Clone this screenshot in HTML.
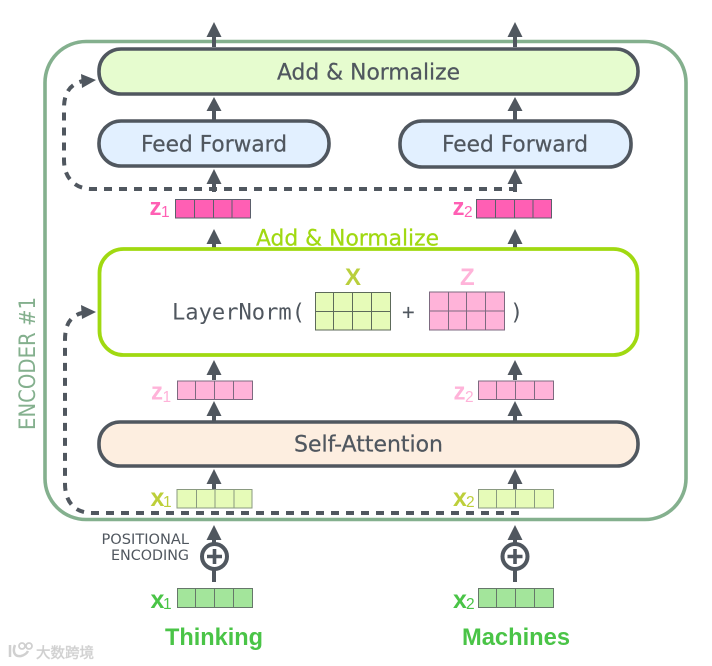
<!DOCTYPE html>
<html><head><meta charset="utf-8">
<style>
html,body{margin:0;padding:0;background:#fff;width:712px;height:666px;overflow:hidden}
svg{display:block}
text{font-family:"DejaVu Sans",sans-serif;fill:#50575f}
.t{stroke:#50575f;stroke-width:.25}
.b{font-family:"Liberation Sans",sans-serif;font-weight:bold}
.s{font-family:"Liberation Sans",sans-serif;font-weight:normal}
</style></head><body>
<svg width="712" height="666" viewBox="0 0 712 666" xmlns="http://www.w3.org/2000/svg">
<rect x="45" y="41.5" width="641" height="478" rx="41" fill="#fff" stroke="#84b08e" stroke-width="3.6"/>

<!-- dashed skip connections -->
<path d="M517 189H92C75 189 64 178 64 160V108C64 93 70 84 83 81" fill="none" stroke="#50575f" stroke-width="4" stroke-dasharray="8 7"/>
<path d="M81 74L96 80L82 88Z" fill="#50575f"/>
<path d="M519 513H92C75 513 65 502 65 484V340C65 325 70 316 82 313" fill="none" stroke="#50575f" stroke-width="4" stroke-dasharray="8 7"/>
<path d="M81 305L96 312L82 319Z" fill="#50575f"/>

<!-- arrows -->
<g stroke="#50575f" stroke-width="4" fill="none">
<path d="M214 32V47M515 32V47M214 105V120M515 105V120M214 178V192M515 178V192M214 238V248M515 238V248M214 370V380M515 370V380M214 411V421M515 411V421M214 479V489M515 479V489M214 535V582M515 535V582"/>
</g>
<g fill="#50575f">
<path d="M214 22l7.500 15h-15zM515 22l7.500 15h-15zM214 97l7.500 14h-15zM515 97l7.500 14h-15zM214 169l7.500 15h-15zM515 169l7.500 15h-15zM214 229l7.500 15h-15zM515 229l7.500 15h-15zM214 360l7.500 15h-15zM515 360l7.500 15h-15zM214 401l7.500 15h-15zM515 401l7.500 15h-15zM214 469l7.500 15h-15zM515 469l7.500 15h-15zM214 525l7.500 15h-15zM515 525l7.500 15h-15z"/>
</g>

<!-- boxes -->
<rect x="99" y="49" width="539" height="45" rx="22" fill="#e6fccf" stroke="#50575f" stroke-width="3.600"/>
<rect x="99" y="121" width="230" height="45" rx="22" fill="#e2f0ff" stroke="#50575f" stroke-width="3.600"/>
<rect x="400" y="121" width="231" height="46" rx="22" fill="#e2f0ff" stroke="#50575f" stroke-width="3.600"/>
<rect x="99.500" y="249" width="538" height="106" rx="24" fill="#fff" stroke="#a0d911" stroke-width="3.800"/>
<rect x="99" y="422" width="539" height="44" rx="21" fill="#fdeee0" stroke="#50575f" stroke-width="3.600"/>

<text class="t" x="277" y="79.500" font-size="22" textLength="183" lengthAdjust="spacingAndGlyphs">Add &amp; Normalize</text>
<text class="t" x="141" y="151.500" font-size="22" textLength="146" lengthAdjust="spacingAndGlyphs">Feed Forward</text>
<text class="t" x="442" y="151.500" font-size="22" textLength="146" lengthAdjust="spacingAndGlyphs">Feed Forward</text>
<text class="t" x="294" y="451.500" font-size="22" textLength="149" lengthAdjust="spacingAndGlyphs">Self-Attention</text>
<text x="256" y="245.500" font-size="22" textLength="183" lengthAdjust="spacingAndGlyphs" style="fill:#a0d911;stroke:#a0d911;stroke-width:.25">Add &amp; Normalize</text>
<text x="172" y="319.500" font-size="22" textLength="133" lengthAdjust="spacingAndGlyphs" style="font-family:'DejaVu Sans Mono',monospace">LayerNorm(</text>
<text x="402" y="319" font-size="21" style="font-family:'DejaVu Sans Mono',monospace">+</text>
<text x="510" y="319.500" font-size="22" style="font-family:'DejaVu Sans Mono',monospace">)</text>
<text class="b" x="345" y="285" font-size="24" style="fill:#b9cf3c">X</text>
<text class="b" x="460" y="285" font-size="24" style="fill:#ffb3d9">Z</text>

<text transform="translate(35,430) rotate(-90)" font-size="22" textLength="133" lengthAdjust="spacingAndGlyphs" style="fill:#84b08e">ENCODER #1</text>

<!-- vectors -->
<g stroke-width="1">
<g fill="#ff5fb4" stroke="#5b5f6b">
<rect x="175.500" y="199.500" width="75" height="18.500"/><path d="M194.500 199.500v18.500M213.500 199.500v18.500M232 199.500v18.500" fill="none"/>
<rect x="476.500" y="199.500" width="75" height="18.500"/><path d="M495.500 199.500v18.500M514.500 199.500v18.500M533 199.500v18.500" fill="none"/>
</g>
<g fill="#ffb3d9" stroke="#7d6a80">
<rect x="177.500" y="381" width="75" height="18.500"/><path d="M195.500 381v18.500M214.500 381v18.500M233.500 381v18.500" fill="none"/>
<rect x="478.500" y="381" width="75" height="18.500"/><path d="M496.500 381v18.500M515.500 381v18.500M534.500 381v18.500" fill="none"/>
<rect x="429.500" y="292" width="75" height="38"/><path d="M429.500 311H504.500M448.500 292v38M466.500 292v38M485.500 292v38" fill="none"/>
</g>
<g fill="#e6fbb8" stroke="#8a9a80">
<rect x="177" y="489.500" width="75" height="18.500"/><path d="M196.500 489.500v18.500M215 489.500v18.500M234 489.500v18.500" fill="none"/>
<rect x="478.500" y="489.500" width="75" height="18.500"/><path d="M496.500 489.500v18.500M515.500 489.500v18.500M534.500 489.500v18.500" fill="none"/>
</g>
<rect x="315.500" y="292.500" width="75" height="37.500" fill="#e6fbb8" stroke="#5d6a5a"/>
<path d="M315.500 311.500H390.500M333.500 292.500v37.500M352.500 292.500v37.500M371.500 292.500v37.500" fill="none" stroke="#5d6a5a"/>
<g fill="#a3e59b" stroke="#66776a">
<rect x="177.500" y="588.500" width="75" height="19"/><path d="M195.500 588.500v19M214.500 588.500v19M233.500 588.500v19" fill="none"/>
<rect x="478.500" y="588.500" width="75" height="19"/><path d="M496.500 588.500v19M515.500 588.500v19M534.500 588.500v19" fill="none"/>
</g>
</g>

<!-- vector labels -->
<text class="b" x="149.500" y="215" font-size="24" style="fill:#ff5fb4">z</text><text class="s" x="161" y="217" font-size="15.500" style="fill:#ff5fb4">1</text>
<text class="b" x="452.500" y="215" font-size="24" style="fill:#ff5fb4">z</text><text class="s" x="464" y="217" font-size="15.500" style="fill:#ff5fb4">2</text>
<text class="b" x="151" y="399.500" font-size="24" style="fill:#ffb3d9">z</text><text class="s" x="162.500" y="402" font-size="15.500" style="fill:#ffb3d9">1</text>
<text class="b" x="453.500" y="399.500" font-size="24" style="fill:#ffb3d9">z</text><text class="s" x="465" y="402" font-size="15.500" style="fill:#ffb3d9">2</text>
<text class="b" x="150.500" y="506" font-size="25" style="fill:#bdcf3a">x</text><text class="s" x="163" y="507" font-size="15.500" style="fill:#bdcf3a">1</text>
<text class="b" x="453" y="506" font-size="25" style="fill:#bdcf3a">x</text><text class="s" x="466" y="507" font-size="15.500" style="fill:#bdcf3a">2</text>
<text class="b" x="150.500" y="608" font-size="25" style="fill:#4ac447">x</text><text class="s" x="163" y="609" font-size="15.500" style="fill:#4ac447">1</text>
<text class="b" x="453" y="608" font-size="25" style="fill:#4ac447">x</text><text class="s" x="466" y="609" font-size="15.500" style="fill:#4ac447">2</text>

<!-- positional encoding circles -->
<g fill="#fff" stroke="#50575f" stroke-width="4">
<circle cx="214.500" cy="556.500" r="12.500"/><circle cx="515" cy="556.500" r="12.500"/>
</g>
<path d="M207 556.500H222M214.500 549V564M507.500 556.500H522.500M515 549V564" stroke="#50575f" stroke-width="3.600" fill="none"/>
<text x="101.500" y="544" font-size="14.500" textLength="87.500" lengthAdjust="spacingAndGlyphs">POSITIONAL</text>
<text x="111" y="560" font-size="14.500" textLength="78" lengthAdjust="spacingAndGlyphs">ENCODING</text>

<text class="b" x="165" y="645" font-size="24" textLength="98" lengthAdjust="spacingAndGlyphs" style="fill:#4ac447">Thinking</text>
<text class="b" x="462" y="645" font-size="24" textLength="108" lengthAdjust="spacingAndGlyphs" style="fill:#4ac447">Machines</text>

<!-- watermark -->
<path d="M10 645V657M15 645C13 650 13 657 21 656C25 655 27 653 28 651" fill="none" stroke="#d0d0d0" stroke-width="2.500"/>
<circle cx="22" cy="646" r="3" fill="none" stroke="#d0d0d0" stroke-width="1.800"/>
<circle cx="29" cy="646" r="3" fill="none" stroke="#d0d0d0" stroke-width="1.800"/>
<text x="36" y="658" font-size="14.500" textLength="58" lengthAdjust="spacingAndGlyphs" style="font-family:'Liberation Sans','Noto Sans CJK SC',sans-serif;fill:#c8c8c8;stroke:#d8d8d8;stroke-width:.6">大数跨境</text>
</svg>
</body></html>
